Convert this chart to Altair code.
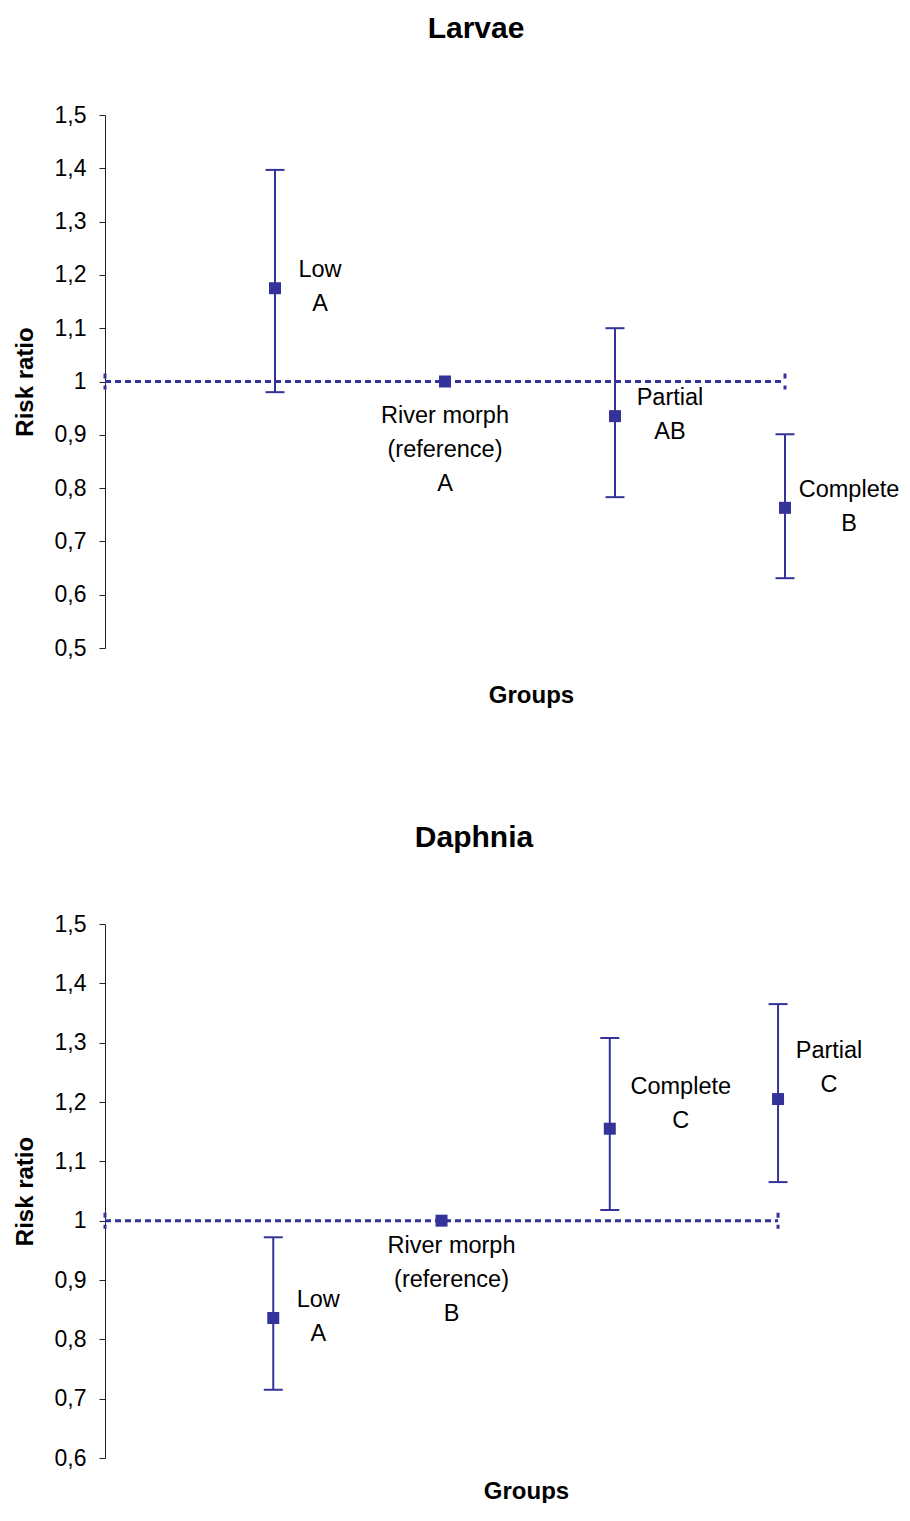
import altair as alt
import pandas as pd

# ---------------- data ----------------
larvae_names = ["Low", "River morph\n(reference)", "Partial", "Complete"]
larvae_letters = ["A", "A", "AB", "B"]
larvae_pos = [1, 2, 3, 4]
larvae_rr = [1.175, 1.000, 0.935, 0.763]
larvae_lo = [0.980, 1.000, 0.783, 0.631]
larvae_hi = [1.397, 1.000, 1.100, 0.901]
larvae_ticks = [0.5, 0.6, 0.7, 0.8, 0.9, 1.0, 1.1, 1.2, 1.3, 1.4, 1.5]
larvae_tick_labels = ["0,5", "0,6", "0,7", "0,8", "0,9", "1", "1,1", "1,2", "1,3", "1,4", "1,5"]

daphnia_names = ["Low", "River morph\n(reference)", "Complete", "Partial"]
daphnia_letters = ["A", "B", "C", "C"]
daphnia_pos = [1, 2, 3, 4]
daphnia_rr = [0.836, 1.000, 1.155, 1.205]
daphnia_lo = [0.715, 1.000, 1.018, 1.065]
daphnia_hi = [0.972, 1.000, 1.308, 1.365]
daphnia_ticks = [0.6, 0.7, 0.8, 0.9, 1.0, 1.1, 1.2, 1.3, 1.4, 1.5]
daphnia_tick_labels = ["0,6", "0,7", "0,8", "0,9", "1", "1,1", "1,2", "1,3", "1,4", "1,5"]

reference_value = 1.0
reference_span = [0, 4]

# label placement (pixel offsets of the first text line from its point: dx, dy)
larvae_label_offsets = [(45, -18), (0, 34), (55, -18), (64, -18)]
daphnia_label_offsets = [(45, -18), (10, 25), (71, -42), (51, -48)]

# ---------------- style ----------------
FONT = "Liberation Sans"
BLUE = "#333399"
X_DOMAIN = [0, 4.6]


def label_expr(ticks, labels):
    arr = "[" + ",".join("'%s'" % s for s in labels) + "]"
    return "%s[round((datum.value - %s) * 10)]" % (arr, ticks[0])


def panel(title, names, letters, pos, rr, lo, hi, ticks, tick_labels,
          offsets, width, height, groups_x, title_offset, title_dx, groups_pad):
    df = pd.DataFrame({
        "idx": list(range(len(pos))),
        "pos": pos, "rr": rr, "lo": lo, "hi": hi,
        "label": [n + "\n" + l for n, l in zip(names, letters)],
    })
    ref = pd.DataFrame({"pos": [reference_span[0]], "pos2": [reference_span[1]],
                        "rr": [reference_value]})
    ref_ends = pd.DataFrame({"pos": reference_span, "rr": [reference_value] * 2})

    xaxis = alt.Axis(title="Groups", labels=False, ticks=False, domain=False, grid=False,
                     titleFont=FONT, titleFontSize=24, titleFontWeight="bold",
                     titleColor="black", titlePadding=groups_pad, titleX=groups_x)
    yaxis = alt.Axis(title="Risk ratio", values=ticks, labelExpr=label_expr(ticks, tick_labels),
                     grid=False, tickSize=6, tickColor="#222", domainColor="#222",
                     labelPadding=13, labelFont=FONT, labelFontSize=23, labelColor="black",
                     titleFont=FONT, titleFontSize=24, titleFontWeight="bold",
                     titleColor="black", titlePadding=17)
    xs = alt.Scale(domain=X_DOMAIN, nice=False, zero=False)
    ys = alt.Scale(domain=[ticks[0], ticks[-1]], nice=False, zero=False)

    def X(f="pos"):
        return alt.X(f + ":Q", scale=xs, axis=xaxis, title="Groups")

    def Y(f):
        return alt.Y(f + ":Q", scale=ys, axis=yaxis, title="Risk ratio")

    line = alt.Chart(ref).mark_rule(color=BLUE, strokeWidth=3, strokeDash=[6, 4]).encode(
        x=X(), x2=alt.X2("pos2:Q", title="Groups"), y=Y("rr"))
    ends = alt.Chart(ref_ends).mark_rule(color=BLUE, strokeWidth=3, strokeDash=[5, 7],
                                         yOffset=-8, y2Offset=8).encode(
        x=X(), y=Y("rr"), y2=alt.Y2("rr:Q", title="Risk ratio"))

    base = alt.Chart(df)
    bars = base.transform_filter("datum.lo < datum.hi").mark_rule(
        color=BLUE, strokeWidth=2).encode(x=X(), y=Y("lo"), y2=alt.Y2("hi:Q", title="Risk ratio"))
    cap_lo = base.transform_filter("datum.lo < datum.hi").mark_tick(
        color=BLUE, orient="horizontal", size=19, thickness=2, opacity=1).encode(x=X(), y=Y("lo"))
    cap_hi = base.transform_filter("datum.lo < datum.hi").mark_tick(
        color=BLUE, orient="horizontal", size=19, thickness=2, opacity=1).encode(x=X(), y=Y("hi"))
    pts = base.mark_square(color=BLUE, size=144, opacity=1, filled=True).encode(x=X(), y=Y("rr"))

    layers = [line, ends, bars, cap_lo, cap_hi, pts]
    for i, (dx, dy) in enumerate(offsets):
        layers.append(
            base.transform_filter("datum.idx == %d" % i).mark_text(
                font=FONT, fontSize=23.5, color="black", align="center", baseline="middle",
                lineBreak="\n", lineHeight=34, dx=dx, dy=dy).encode(
                x=X(), y=Y("rr"), text="label:N"))

    return alt.layer(*layers).properties(
        width=width, height=height,
        title=alt.Title(title, font=FONT, fontSize=30, fontWeight="bold", color="black",
                        anchor="middle", offset=title_offset, dx=title_dx))


top = panel("Larvae", larvae_names, larvae_letters, larvae_pos, larvae_rr, larvae_lo, larvae_hi,
            larvae_ticks, larvae_tick_labels, larvae_label_offsets, 782, 533, 426, 60, -20, 35)
bottom = panel("Daphnia", daphnia_names, daphnia_letters, daphnia_pos, daphnia_rr, daphnia_lo,
               daphnia_hi, daphnia_ticks, daphnia_tick_labels, daphnia_label_offsets, 774, 534, 421,
               60, -18, 21)

chart = alt.vconcat(top, bottom, spacing=116).properties(
    padding={"top": 6, "left": 5, "right": 0, "bottom": 0}
).configure(background="white").configure_view(strokeWidth=0, stroke=None)

chart.save("out.html", embed_options={"renderer": "svg", "actions": False})
